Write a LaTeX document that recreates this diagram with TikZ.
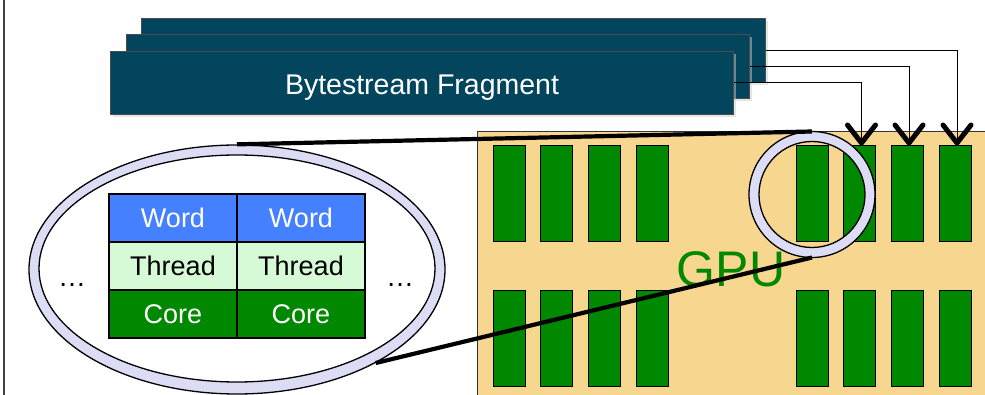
\documentclass[tikz,border=0pt]{standalone}
\usepackage{fontspec}
\setmainfont{Liberation Sans}
\usetikzlibrary{arrows.meta,shapes.geometric,shadows}

\definecolor{streamteal}{RGB}{3,69,92}
\definecolor{gputan}{RGB}{247,214,143}
\definecolor{coregreen}{RGB}{0,136,0}
\definecolor{ringlav}{RGB}{220,220,244}
\definecolor{wordblue}{RGB}{68,128,255}
\definecolor{threadmint}{RGB}{214,250,214}

\tikzset{
  bsbox/.style={rectangle, fill=streamteal, draw=black!70, line width=0.6pt,
    inner sep=0pt, anchor=north west,
    drop shadow={shadow xshift=3pt, shadow yshift=-3pt, fill=black!20}},
  gpubox/.style={rectangle, fill=gputan, draw=black!80, line width=0.8pt,
    inner sep=0pt, anchor=north west},
  corebar/.style={rectangle, fill=coregreen, draw=black, line width=1pt,
    minimum width=32pt, minimum height=96pt, inner sep=0pt},
  feed/.style={draw=black, line width=1pt,
    -{Straight Barb[length=18pt, width=28pt, line width=5pt, round]}},
  zoomline/.style={draw=black, line width=4.2pt},
  ringline/.style={draw=black, line width=1.3pt},
  cell/.style={rectangle, draw=black, line width=1.1pt, minimum width=128pt,
    minimum height=48pt, inner sep=0pt, font=\fontsize{27}{29}\selectfont},
  wordcell/.style={cell, fill=wordblue, text=white},
  threadcell/.style={cell, fill=threadmint, text=black},
  corecell/.style={cell, fill=coregreen, text=white},
  dotslabel/.style={anchor=base, font=\fontsize{28}{30}\selectfont}
}

\begin{document}
\begin{tikzpicture}[x=1pt, y=-1pt]
\useasboundingbox (0,0) rectangle (985,395);
\fill[white] (0,0) rectangle (985,395);
\begin{scope}
\clip (0,0) rectangle (985,395);

% frame edge on the left
\draw[line width=1.1pt, black!75] (4,-5) -- (4,400);

% stacked bytestream fragments
\node[bsbox, minimum width=624pt, minimum height=64pt] (bsBack) at (141,18) {};
\node[bsbox, minimum width=623pt, minimum height=64pt] (bsMid) at (126,34) {};
\node[bsbox, minimum width=623pt, minimum height=63pt] (bsFront) at (110,51) {};
\node[anchor=base, text=white, font=\fontsize{28.5}{30}\selectfont]
  (bsLabel) at (422,95) {Bytestream Fragment};

% GPU board with two rows of cores
\node[gpubox, minimum width=600pt, minimum height=320pt] (gpu) at (477,131) {};
\foreach \i/\cx in {1/509,2/556.5,3/604,4/652,5/812,6/859.5,7/907,8/955}{
  \node[corebar] (coreT\i) at (\cx,194) {};
  \node[corebar] (coreB\i) at (\cx,338.5) {};
}
\node[anchor=base, text=coregreen, font=\fontsize{50}{52}\selectfont]
  (gpuLabel) at (731,287) {GPU};

% fragments feeding the cores
\draw[feed] (bsBack.east) -| ([xshift=2pt]coreT8.north);
\draw[feed] (bsMid.east) -| ([xshift=2pt]coreT7.north);
\draw[feed] (bsFront.east) -| ([xshift=2pt]coreT6.north);

% magnifying ring over two cores
\coordinate (lensC) at (812,194.5);
\fill[ringlav, even odd rule] (lensC) circle[radius=63] (lensC) circle[radius=53];
\draw[ringline] (lensC) circle[radius=63] (lensC) circle[radius=53];
\coordinate (lensTop) at (812,131.5);
\coordinate (lensBot) at (812,257.5);

% enlarged detail
\node[ellipse, ringline, fill=ringlav, inner sep=0pt,
  minimum width=416pt, minimum height=249pt] (detail) at (237,269.5) {};
\node[ellipse, ringline, fill=white, inner sep=0pt,
  minimum width=396pt, minimum height=227pt] (detailIn) at (237,268.5) {};

\draw[zoomline] (lensTop) -- (detail.north);
\draw[zoomline] (lensBot) -- (detail.-34);

% word / thread / core mapping
\node[wordcell] (wordL) at (173,218) {Word};
\node[wordcell] (wordR) at (301,218) {Word};
\node[threadcell] (threadL) at (173,266) {Thread};
\node[threadcell] (threadR) at (301,266) {Thread};
\node[corecell] (coreL) at (173,314) {Core};
\node[corecell] (coreR) at (301,314) {Core};

\node[dotslabel] (dotsL) at (72,287) {…};
\node[dotslabel] (dotsR) at (400,287) {…};
\end{scope}
\end{tikzpicture}
\end{document}
